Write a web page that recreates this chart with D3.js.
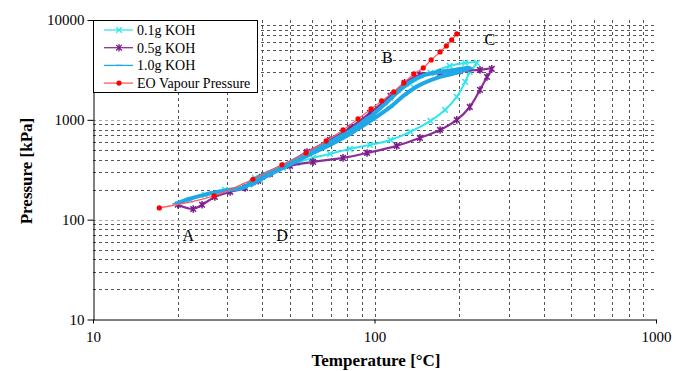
<!DOCTYPE html>
<html>
<head>
<meta charset="utf-8">
<script src="https://cdn.jsdelivr.net/npm/d3@7"></script>
<style>
  body { margin: 0; background: #fff; }
  svg text { font-family: "Liberation Serif", "Times New Roman", serif; }
</style>
</head>
<body>
<div id="vis"></div>
<script>
// series: temperature [°C] and pressure [kPa]
var t01 = [22.1, 25.0, 29.4, 34.7, 37.6, 47.3, 57.6, 69.5, 81.8, 96.4, 114, 134, 158, 185, 210, 231,
           218, 210, 196, 178, 158, 134, 114, 96.4, 81.8, 69.5, 60.5, 53.0, 47.3, 42.5, 39.2];
var p01 = [158, 177, 199, 218, 262, 346, 456, 615, 800, 1147, 1656, 2291, 2951, 3467, 3717, 3717,
           3020, 2399, 1698, 1256, 975, 757, 629, 561, 512, 456, 416, 371, 330, 288, 250];

var t05 = [20.0, 22.7, 24.4, 27.1, 30.7, 34.7, 37.0, 39.8, 47.3, 57.6, 69.5, 81.8, 96.4, 114, 128, 145, 171, 201, 237, 261,
           251, 237, 218, 196, 171, 145, 120, 94.1, 77.3, 60.5, 50.1, 42.5, 38.6];
var p05 = [141, 128, 141, 169, 190, 208, 239, 268, 345, 477, 629, 832, 1175, 1738, 2344, 2818, 2951, 3090, 3162, 3236,
           2692, 1995, 1346, 998, 792, 659, 548, 466, 416, 379, 346, 288, 245];

var t10 = [19.6, 22.1, 24.0, 26.7, 30.7, 34.7, 36.7, 39.8, 47.3, 57.6, 69.5, 81.8, 96.4, 109, 121, 134, 151, 171, 193, 218,
           201, 171, 145, 128, 114, 98.0, 81.8, 69.5, 57.6, 48.1, 40.8, 36.1];
var p10 = [144, 162, 173, 186, 199, 213, 245, 275, 346, 456, 601, 774, 1069, 1442, 1905, 2399, 2818, 3020, 3162, 3311,
           3020, 2692, 2239, 1778, 1346, 998, 722, 561, 435, 338, 268, 218];

var tEO = [17.2, 26.9, 37.0, 46.9, 57.1, 67.3, 77.3, 87.4, 97.2, 106, 117, 127, 138, 149, 159, 171, 180, 188, 196];
var pEO = [131, 173, 254, 354, 466, 615, 792, 1021, 1285, 1545, 1905, 2344, 2884, 3311, 3981, 4786, 5495, 6310, 7258];

var seriesNames = ["0.1g KOH", "0.5g KOH", "1.0g KOH", "EO Vapour Pressure"];
var xTicks = [10, 100, 1000];
var yTicks = [10, 100, 1000, 10000];

var notes = ["A", "B", "C", "D"];
var noteT = [21.8, 111, 257, 46.9];
var noteP = [61, 3715, 5623, 61];

var width = 676, height = 371;

var x = d3.scaleLog().domain([10, 1000]).range([93, 656]);
var y = d3.scaleLog().domain([10, 10000]).range([319.5, 20]);

var svg = d3.select("#vis").append("svg")
  .attr("width", width)
  .attr("height", height);

// grid lines: dashed at 2..9 of every decade
var gx = [], gy = [];
[10, 100].forEach(function(d) { for (var k = 2; k <= 9; k++) gx.push(k * d); });
gx.push(100);
[10, 100, 1000].forEach(function(d) { for (var k = 2; k <= 9; k++) gy.push(k * d); });

var grid = svg.append("g");
grid.selectAll("line.gx").data(gx).enter().append("line")
  .attr("x1", function(d) { return Math.round(x(d)) + 0.5; })
  .attr("x2", function(d) { return Math.round(x(d)) + 0.5; })
  .attr("y1", 20).attr("y2", 319.5)
  .attr("stroke", "#555").attr("stroke-width", 1).attr("stroke-dasharray", "3,3");
grid.selectAll("line.gy").data(gy).enter().append("line")
  .attr("x1", 93).attr("x2", 656)
  .attr("y1", function(d) { return Math.round(y(d)) + 0.5; })
  .attr("y2", function(d) { return Math.round(y(d)) + 0.5; })
  .attr("stroke", "#555").attr("stroke-width", 1).attr("stroke-dasharray", "3,3");
grid.selectAll("line.gm").data([100, 1000]).enter().append("line")
  .attr("x1", 93).attr("x2", 656)
  .attr("y1", function(d) { return Math.round(y(d)) + 0.5; })
  .attr("y2", function(d) { return Math.round(y(d)) + 0.5; })
  .attr("stroke", "#aaa").attr("stroke-width", 1).attr("stroke-dasharray", "3,3");

// axes
var xAxis = d3.axisBottom(x).tickValues(xTicks).tickFormat(d3.format("d")).tickSize(4).tickSizeOuter(0);
var yAxis = d3.axisLeft(y).tickValues(yTicks).tickFormat(d3.format("d")).tickSize(6).tickSizeOuter(0);

var gX = svg.append("g").attr("transform", "translate(0,319.5)").call(xAxis);
var gY = svg.append("g").attr("transform", "translate(93.5,0)").call(yAxis);
[gX, gY].forEach(function(g) {
  g.select(".domain").attr("stroke", "#000");
  g.selectAll(".tick line").attr("stroke", "#000");
  g.selectAll("text").attr("fill", "#000")
    .style("font-family", "'Liberation Serif', serif").style("font-size", "15px");
});
gX.selectAll("text").attr("dy", "1.05em");

svg.append("text")
  .attr("x", 376).attr("y", 366)
  .attr("text-anchor", "middle")
  .style("font-size", "17px").style("font-weight", "bold")
  .text("Temperature [°C]");

svg.append("text")
  .attr("transform", "translate(32,171) rotate(-90)")
  .attr("text-anchor", "middle")
  .style("font-size", "17px").style("font-weight", "bold")
  .text("Pressure [kPa]");

// marker shapes
function cross(s) { return "M" + -s + "," + -s + "L" + s + "," + s + "M" + -s + "," + s + "L" + s + "," + -s; }
function star(s) { return cross(s) + "M0," + (-s - 1) + "L0," + (s + 1); }
function dash(s) { return "M" + -s + ",0L" + s + ",0"; }

var series = [
  { t: t01, p: p01, color: "#2ee6ec", line: "#2ee6ec", mark: cross(2.8), lw: 2 },
  { t: t05, p: p05, color: "#7d1a8c", line: "#8a2f9a", mark: star(2.8), lw: 2.2 },
  { t: t10, p: p10, color: "#20a8e6", line: "#20a8e6", mark: dash(3), lw: 4 },
  { t: tEO, p: pEO, color: "#ff0000", line: "#ff5a5a", mark: null, lw: 1.2 }
];

var line = d3.line()
  .x(function(d) { return x(d[0]); })
  .y(function(d) { return y(d[1]); })
  .curve(d3.curveCatmullRom);

var plot = svg.append("g");
series.forEach(function(s) {
  var pts = s.t.map(function(t, i) { return [t, s.p[i]]; });
  plot.append("path")
    .datum(pts)
    .attr("d", line)
    .attr("fill", "none")
    .attr("stroke", s.line)
    .attr("stroke-width", s.lw);
  if (s.mark) {
    plot.selectAll(null).data(pts).enter().append("path")
      .attr("transform", function(d) { return "translate(" + x(d[0]) + "," + y(d[1]) + ")"; })
      .attr("d", s.mark)
      .attr("fill", "none")
      .attr("stroke", s.color)
      .attr("stroke-width", 1.5);
  } else {
    plot.selectAll(null).data(pts).enter().append("circle")
      .attr("cx", function(d) { return x(d[0]); })
      .attr("cy", function(d) { return y(d[1]); })
      .attr("r", 2.6)
      .attr("fill", s.color);
  }
});

// A B C D labels
svg.selectAll("text.note").data(notes).enter().append("text")
  .attr("x", function(d, i) { return x(noteT[i]); })
  .attr("y", function(d, i) { return y(noteP[i]); })
  .attr("text-anchor", "middle")
  .style("font-size", "16px")
  .text(function(d) { return d; });

// legend
var leg = svg.append("g");
leg.append("rect")
  .attr("x", 93.5).attr("y", 20.5).attr("width", 164).attr("height", 72)
  .attr("fill", "#fff").attr("stroke", "#000").attr("stroke-width", 1);
seriesNames.forEach(function(name, i) {
  var s = series[i];
  var yy = 30 + i * 17.7;
  leg.append("line")
    .attr("x1", 104).attr("x2", 133).attr("y1", yy).attr("y2", yy)
    .attr("stroke", s.line).attr("stroke-width", 1.3);
  if (s.mark) {
    leg.append("path")
      .attr("transform", "translate(119," + yy + ")")
      .attr("d", s.mark)
      .attr("fill", "none").attr("stroke", s.color).attr("stroke-width", 1.3);
  } else {
    leg.append("circle").attr("cx", 119).attr("cy", yy).attr("r", 2.6).attr("fill", s.color);
  }
  leg.append("text")
    .attr("x", 137).attr("y", yy + 5)
    .style("font-size", "14px")
    .text(name);
});
</script>
</body>
</html>
